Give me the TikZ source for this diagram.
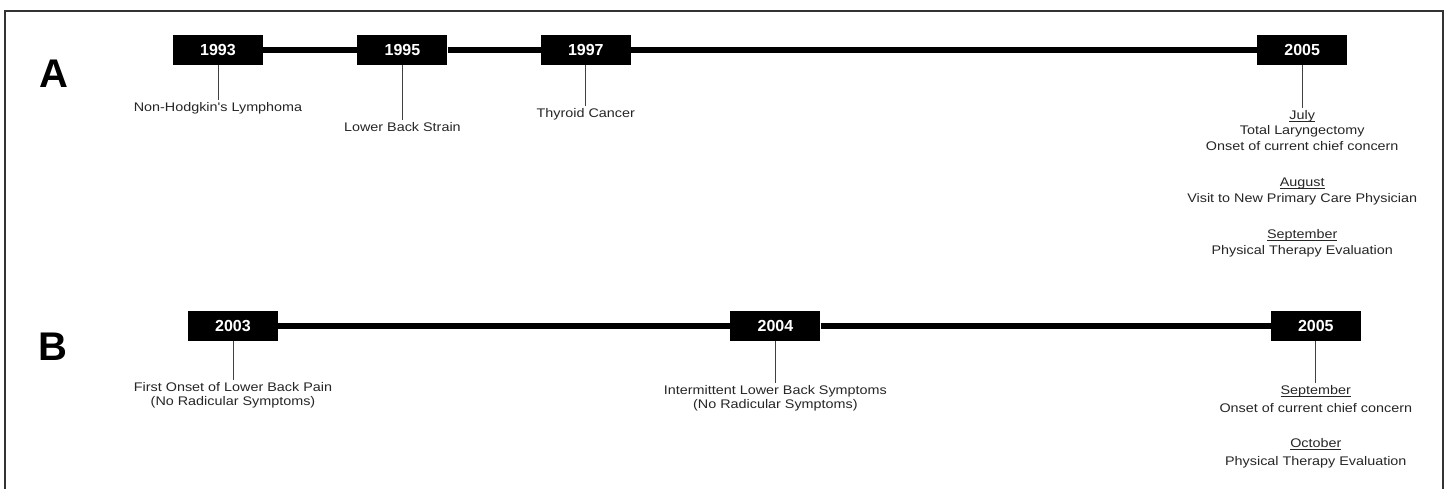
\documentclass[tikz,border=0pt]{standalone}
\usepackage{fontspec}
\setmainfont{Liberation Sans}
\newfontfamily\evfont[FakeStretch=1.15]{Liberation Sans}
\usetikzlibrary{positioning}
\newcommand\monthname[1]{\setbox0\hbox{#1}\rlap{\rule[-1.9pt]{\wd0}{0.6pt}}\box0}

\begin{document}
\begin{tikzpicture}[
  x=1pt,y=1pt,
  node distance=40pt and 90pt,
  yearbox/.style={fill=black,text=white,minimum width=90pt,minimum height=30pt,inner sep=0pt,font=\bfseries\fontsize{16}{16}\selectfont},
  event/.style={align=center,inner sep=2pt,text=black!85,font=\evfont\fontsize{12.5}{15.5}\selectfont},
  eventwide/.style={event,font=\evfont\fontsize{12.5}{18}\selectfont},
  eventtight/.style={event,font=\evfont\fontsize{12.5}{14}\selectfont},
  timeline/.style={draw,line width=5.5pt},
  tick/.style={draw,black!75,line width=0.9pt},
  panel/.style={font=\bfseries\fontsize{40}{40}\selectfont}
]
\useasboundingbox (0,0) rectangle (1450,-489);
\draw[line width=1.4pt,black!80] (5,-489) |- (1443,-11) -- (1443,-489);
\node[panel] (A) at (54,-74) {A};
\node[panel] (B) at (53,-347) {B};

\node[yearbox] (y93) at (218,-50) {1993};
\node[yearbox,right=94pt of y93] (y95) {1995};
\node[yearbox,right=93pt of y95] (y97) {1997};
\node[yearbox,right=626pt of y97] (y05a) {2005};
\node[event,below=35pt of y93] (e93) {Non-Hodgkin's Lymphoma};
\node[event,below=55pt of y95] (e95) {Lower Back Strain};
\node[event,below=41pt of y97] (e97) {Thyroid Cancer};
\node[event,below=43pt of y05a] (e05a) {\monthname{July}\\Total Laryngectomy\\Onset of current chief concern\\[21pt]
  \monthname{August}\\Visit to New Primary Care Physician\\[21pt]
  \monthname{September}\\Physical Therapy Evaluation};

\node[yearbox] (y03) at (233,-326) {2003};
\node[yearbox,right=452pt of y03] (y04) {2004};
\node[yearbox,right=450pt of y04] (y05b) {2005};
\node[eventtight,below=39pt of y03] (e03) {First Onset of Lower Back Pain\\(No Radicular Symptoms)};
\node[eventtight,below=42pt of y04] (e04) {Intermittent Lower Back Symptoms\\(No Radicular Symptoms)};
\node[eventwide,below=42pt of y05b] (e05b) {\monthname{September}\\Onset of current chief concern\\[17pt]
  \monthname{October}\\Physical Therapy Evaluation};

\path (y93) edge[timeline] (y95)
(y95) edge[timeline] (y97)
(y97) edge[timeline] (y05a)
(y03) edge[timeline] (y04)
(y04) edge[timeline] (y05b);
\path (y93) edge[tick] (e93)
(y95) edge[tick] (e95)
(y97) edge[tick] (e97)
(y05a) edge[tick] (e05a)
(y03) edge[tick] (e03)
(y04) edge[tick] (e04)
(y05b) edge[tick] (e05b);
\end{tikzpicture}
\end{document}
